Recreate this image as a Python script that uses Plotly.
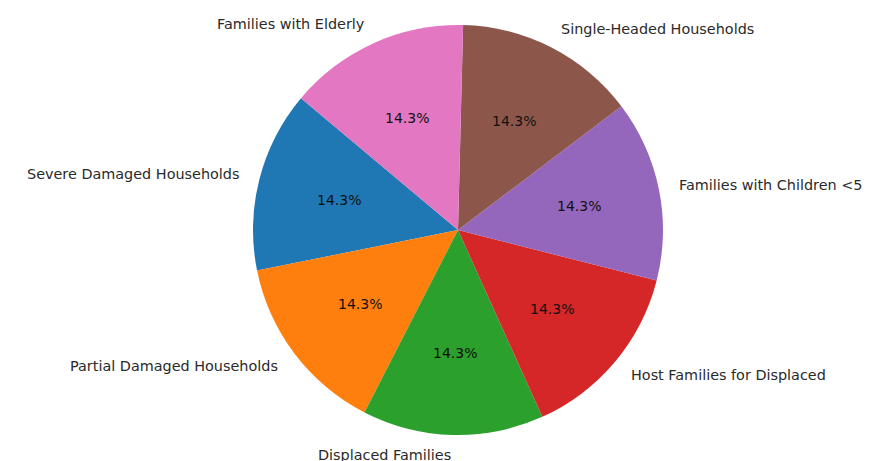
import math
import plotly.graph_objects as go

labels = ["Severe Damaged Households", "Partial Damaged Households", "Displaced Families",
          "Host Families for Displaced", "Families with Children <5", "Single-Headed Households",
          "Families with Elderly"]
values = [1, 1, 1, 1, 1, 1, 1]
colors = ["#1f77b4", "#ff7f0e", "#2ca02c", "#d62728", "#9467bd", "#8c564b", "#e377c2"]
start_angle = 140  # degrees, counterclockwise from 3 o'clock

W, H = 875, 461
ml, mr, mt, mb = 25, 0, 17, 34
pw, ph = W - ml - mr, H - mt - mb
R = min(pw, ph) / 2

total = sum(values)
first_span = 360 * values[0] / total

fig = go.Figure(go.Pie(
    labels=labels, values=values, sort=False, direction="counterclockwise",
    rotation=90 - start_angle - first_span, marker=dict(colors=colors, line=dict(width=0)),
    textinfo="none", hoverinfo="label+percent", showlegend=False,
))

ann = []
a0 = start_angle
FONT = "DejaVu Sans"
for lab, v in zip(labels, values):
    span = 360 * v / total
    mid = math.radians(a0 + span / 2)
    a0 += span
    cx, cy = math.cos(mid), math.sin(mid)
    lx = 0.5 + 1.095 * R * cx / pw
    ly = 0.5 + 1.1 * R * cy / ph
    ann.append(dict(x=lx, y=ly, xref="paper", yref="paper", text=lab, showarrow=False,
                    xanchor="left" if cx > 0 else "right", yanchor="middle", borderpad=0,
                    font=dict(family=FONT, size=14.4, color="#2a2a2a")))
    px = 0.5 + 0.6 * R * cx / pw
    py = 0.5 + 0.6 * R * cy / ph
    ann.append(dict(x=px, y=py, xref="paper", yref="paper", text=f"{100*v/total:.1f}%",
                    showarrow=False, xanchor="center", yanchor="middle",
                    font=dict(family=FONT, size=14, color="#111")))

fig.update_layout(width=W, height=H, margin=dict(l=ml, r=mr, t=mt, b=mb),
                  paper_bgcolor="white", plot_bgcolor="white", annotations=ann)
fig.write_html("out.html")
